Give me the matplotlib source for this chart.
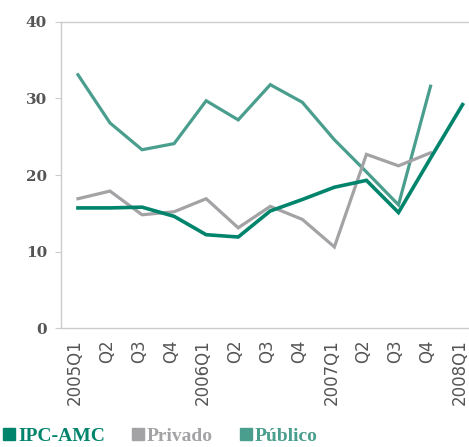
import numpy as np
import matplotlib
matplotlib.use("Agg")
import matplotlib.pyplot as plt
import matplotlib.transforms as mtransforms
from matplotlib.lines import Line2D

# quarterly series, 2005Q1 .. 2008Q1
quarters = ["2005Q1", "Q2", "Q3", "Q4", "2006Q1", "Q2", "Q3", "Q4",
            "2007Q1", "Q2", "Q3", "Q4", "2008Q1"]
ipc_amc = [15.7, 15.7, 15.8, 14.6, 12.2, 11.9, 15.3, 16.8, 18.4, 19.3, 15.1, 22.2, 29.2]
privado = [16.9, 17.9, 14.8, 15.2, 16.9, 13.1, 15.9, 14.2, 10.6, 22.7, 21.2, 22.9]
publico = [33.1, 26.8, 23.3, 24.1, 29.7, 27.2, 31.8, 29.5, 24.6, 20.4, 16.1, 31.6]

c_ipc = "#00846c"
c_priv = "#a3a3a6"
c_pub = "#4a9e8d"
c_txt = "#555555"

plt.rcParams['font.family'] = ['DejaVu Sans']

fig = plt.figure(figsize=(4.69, 4.47), dpi=100)
ax = fig.add_axes([0.130, 0.266, 0.87, 0.685])

x = np.arange(len(quarters))
ax.plot(x[:len(publico)], publico, color=c_pub, lw=2.3, solid_joinstyle='miter')
ax.plot(x[:len(privado)], privado, color=c_priv, lw=2.3, solid_joinstyle='miter')
ax.plot(x, ipc_amc, color=c_ipc, lw=2.6, solid_joinstyle='miter')

ax.set_ylim(0, 40)
ax.set_yticks([0, 10, 20, 30, 40])
ax.set_xlim(-0.53, 12.2)
ax.set_xticks(x)
ax.set_xticklabels(quarters, rotation=90)

for s in ["left", "top", "bottom"]:
    ax.spines[s].set_color("#cccccc")
    ax.spines[s].set_linewidth(1.0)
ax.spines["right"].set_visible(False)
ax.tick_params(axis='y', length=4, color="#cccccc", labelcolor=c_txt, pad=6)
ax.tick_params(axis='x', length=0, labelsize=12, labelcolor=c_txt, pad=8)
for lab in ax.get_yticklabels():
    lab.set_fontfamily('DejaVu Serif')
    lab.set_fontweight('bold')
    lab.set_fontsize(11)

# nudge the rotated quarter labels a little to the left
shift = mtransforms.ScaledTranslation(-3 / 100, 0, fig.dpi_scale_trans)
for lab in ax.get_xticklabels():
    lab.set_transform(lab.get_transform() + shift)

handles = [Line2D([], [], marker='s', ls='none', ms=9, color=c, label=l)
           for c, l in [(c_ipc, "IPC-AMC"), (c_priv, "Privado"), (c_pub, "Público")]]
leg = fig.legend(handles=handles, loc='lower left', bbox_to_anchor=(0.004, 0.004), ncol=3,
                 frameon=False, borderpad=0, borderaxespad=0,
                 handletextpad=0.1, columnspacing=1.3, handlelength=0.75,
                 prop={'family': ['Liberation Serif', 'DejaVu Serif'], 'weight': 'bold', 'size': 14})
for t, c in zip(leg.get_texts(), [c_ipc, c_priv, c_pub]):
    t.set_color(c)

fig.savefig("out.png", dpi=100)
